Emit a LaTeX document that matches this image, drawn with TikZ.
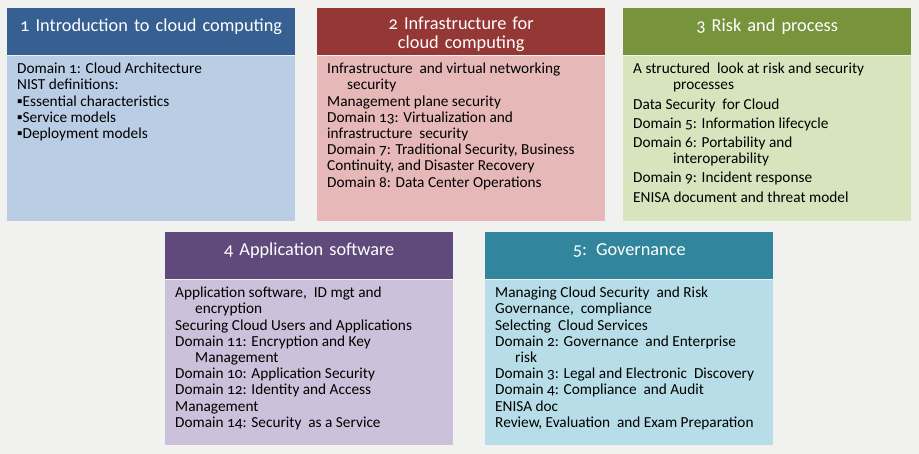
\documentclass[tikz,border=0pt]{standalone}
\usepackage{fontspec}
\setmainfont{Carlito}[Numbers=OldStyle]
\usepackage{xcolor}
\usetikzlibrary{positioning,calc}

\definecolor{headBlue}{HTML}{366092}
\definecolor{bodyBlue}{HTML}{B9CDE5}
\definecolor{headRed}{HTML}{953735}
\definecolor{bodyRed}{HTML}{E6B9B8}
\definecolor{headGreen}{HTML}{77933C}
\definecolor{bodyGreen}{HTML}{D7E4BD}
\definecolor{headPurple}{HTML}{604A7B}
\definecolor{bodyPurple}{HTML}{CCC1DA}
\definecolor{headTeal}{HTML}{31859C}
\definecolor{bodyTeal}{HTML}{B7DEE8}
\definecolor{paper}{HTML}{F1F1EF}

% body text, kept at the top of its box
\newcommand\topics[2]{\parbox[t][#1][t]{268pt}{\raggedright #2}}
\newcommand\hang{\hspace*{20pt}}

\begin{document}
\begin{tikzpicture}[x=1pt, y=-1pt,
					head/.style={
						anchor=north west, inner sep=0pt,
						minimum width=288pt, minimum height=47pt,
						text width=284pt, align=center,
						font=\fontsize{18.3}{19}\selectfont, text=white,
						execute at begin node=\rule{0pt}{18pt}
					},
					body/.style={
						inner xsep=10pt, inner ysep=7.5pt,
						minimum width=288pt,
						font=\fontsize{15.3}{16.2}\selectfont, text=black
					}
				]
				\fill[paper] (0,0) rectangle (919,454);
				\useasboundingbox (0,0) rectangle (919,454);
				
				\node[head, fill=headBlue] (h1) at (7,8) {1 Introduction to cloud computing\\~};
				\node[body, fill=bodyBlue] (b1) [below=0pt of h1] {\topics{150pt}{%
					Domain 1: Cloud Architecture\\
					NIST definitions:\\
					▪Essential characteristics\\
					▪Service models\\
					▪Deployment models}};
				%
				\node[head, fill=headRed] (h2) at (317,8) {2 Infrastructure for\\cloud computing};
				\node[body, fill=bodyRed] (b2) [below=0pt of h2] {\topics{150pt}{%
					Infrastructure\ \ and virtual networking\\
					\hang security\\
					Management plane security\\
					Domain 13: Virtualization and\\
					infrastructure\ \ security\\
					Domain 7: Traditional Security, Business\\
					Continuity, and Disaster Recovery\\
					Domain 8: Data Center Operations}};
				%
				\node[head, fill=headGreen] (h3) at (623,8) {3 Risk and process\\~};
				\node[body, fill=bodyGreen] (b3) [below=0pt of h3] {\topics{150pt}{%
					A structured\ \ look at risk and security\\
					\hang\hang processes\\[3pt]
					Data Security\ \ for Cloud\\[3pt]
					Domain 5: Information lifecycle\\[3pt]
					Domain 6: Portability and\\
					\hang\hang interoperability\\[3pt]
					Domain 9: Incident response\\[3pt]
					ENISA document and threat model}};
				
				\node[head, fill=headPurple] (h4) at (165,232) {4 Application software\\~};
				\node[body, fill=bodyPurple] (b4) [below=0pt of h4] {\topics{150pt}{%
					Application software,\ \ ID mgt and\\
					\hang encryption\\
					Securing Cloud Users and Applications\\
					Domain 11: Encryption and Key\\
					\hang Management\\
					Domain 10: Application Security\\
					Domain 12: Identity and Access\\
					Management\\
					Domain 14: Security\ \ as a Service}};
				%
				\node[head, fill=headTeal] (h5) at (485,232) {5: Governance\\~};
				\node[body, fill=bodyTeal] (b5) [below=0pt of h5] {\topics{150pt}{%
					Managing Cloud Security\ \ and Risk\\
					Governance,\ \ compliance\\
					Selecting\ \ Cloud Services\\
					Domain 2: Governance\ \ and Enterprise\\
					\hang risk\\
					Domain 3: Legal and Electronic\ \ Discovery\\
					Domain 4: Compliance\ \ and Audit\\
					ENISA doc\\
					Review, Evaluation\ \ and Exam Preparation}};
			\end{tikzpicture}
\end{document}
